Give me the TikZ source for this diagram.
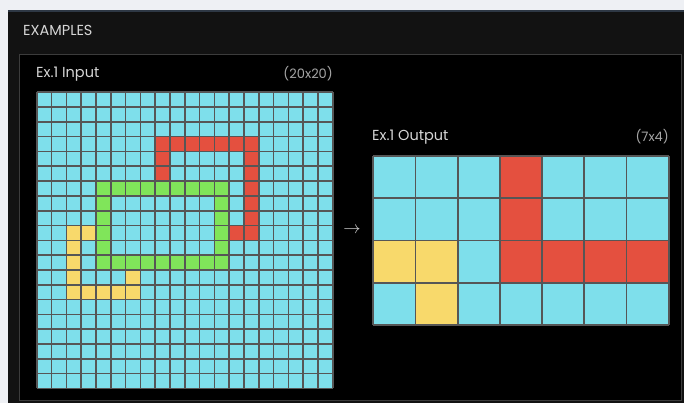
\documentclass[tikz,border=0pt]{standalone}
\usepackage{fontspec}
\setmainfont{Poppins}
\usepackage{tikz}

\definecolor{skyc}{HTML}{7EDFEB}
\definecolor{redc}{HTML}{E4503F}
\definecolor{greenc}{HTML}{80E55A}
\definecolor{yellowc}{HTML}{F8D96B}
\definecolor{linec}{HTML}{565656}
\definecolor{pagec}{HTML}{EEF0F4}
\definecolor{panelc}{HTML}{121212}
\definecolor{rulec}{HTML}{2E3845}
\definecolor{framec}{HTML}{3C3C3C}
\definecolor{textc}{HTML}{D6D6D6}
\definecolor{dimc}{HTML}{A6A6A6}

\newcommand{\arccell}[3]{\fill[#1] (#2,#3) rectangle ++(1,1);}

\begin{document}
\begin{tikzpicture}[x=1pt, y=-1pt,
    title/.style={text=textc, font=\fontsize{14.5}{16}\selectfont, inner sep=0pt},
    dims/.style={text=dimc, font=\fontsize{13}{15}\selectfont, inner sep=0pt},
    smallline/.style={draw=linec, line width=1.6pt},
    bigline/.style={draw=linec, line width=1.8pt}]
    \useasboundingbox (0,0) rectangle (684,403);

    % 1. Khung nen
    \fill[pagec] (0,0) rectangle (684,403);
    \fill[panelc] (8,11) rectangle (684,403);
    \draw[rulec, line width=2pt] (8,11) -- (684,11);
    \draw[framec, fill=black] (19,54) rectangle (681.5,400);

    \node[title, anchor=west] (head) at (23,30) {EXAMPLES};
    \node[title, anchor=west] (intitle) at (36,74) {Ex.1 Input};
    \node[dims, anchor=east] (insize) at (333,74) {(20x20)};
    \node[title, anchor=west] (outtitle) at (372,137) {Ex.1 Output};
    \node[dims, anchor=east] (outsize) at (669,137) {(7x4)};
    \node[text=textc, font=\fontsize{17}{18}\selectfont, inner sep=0pt] (arrow) at (352,230) {$\rightarrow$};

    % 2. Luoi dau vao 20x20
    \begin{scope}[shift={(36.7pt,-92.3pt)}, x=14.8pt, y=-14.8pt]
        \fill[skyc] (0,0) rectangle (20,20);
        \foreach \c in {8,...,14} { \arccell{redc}{\c}{3} }
        \foreach \r in {4,5} { \arccell{redc}{8}{\r} }
        \foreach \r in {4,...,9} { \arccell{redc}{14}{\r} }
        \arccell{redc}{13}{9}
        \foreach \c in {4,...,12} {
            \arccell{greenc}{\c}{6}
            \arccell{greenc}{\c}{11}
        }
        \foreach \r in {7,...,10} {
            \arccell{greenc}{4}{\r}
            \arccell{greenc}{12}{\r}
        }
        \foreach \r in {9,...,13} { \arccell{yellowc}{2}{\r} }
        \arccell{yellowc}{3}{9}
        \foreach \c in {3,...,6} { \arccell{yellowc}{\c}{13} }
        \arccell{yellowc}{6}{12}
        \foreach \i in {0,...,20} {
            \draw[smallline] (\i,0) -- (\i,20);
            \draw[smallline] (0,\i) -- (20,\i);
        }
    \end{scope}

    % 3. Luoi dau ra 7x4
    \begin{scope}[shift={(373.3pt,-156pt)}, x=42.2pt, y=-42.25pt]
        \foreach \row [count=\r from 0] in {
            {skyc,skyc,skyc,redc,skyc,skyc,skyc},
            {skyc,skyc,skyc,redc,skyc,skyc,skyc},
            {yellowc,yellowc,skyc,redc,redc,redc,redc},
            {skyc,yellowc,skyc,skyc,skyc,skyc,skyc}} {
            \foreach \col [count=\c from 0] in \row { \arccell{\col}{\c}{\r} }
        }
        \foreach \i in {0,...,7} { \draw[bigline] (\i,0) -- (\i,4); }
        \foreach \i in {0,...,4} { \draw[bigline] (0,\i) -- (7,\i); }
    \end{scope}
\end{tikzpicture}
\end{document}
